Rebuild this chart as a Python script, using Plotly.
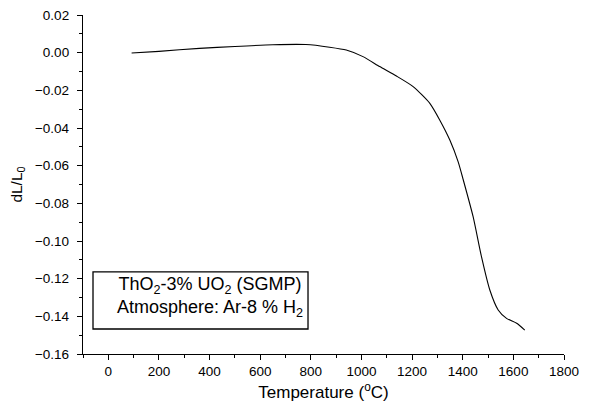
import plotly.graph_objects as go

temperature = [92, 200, 360, 500, 650, 780, 874, 940, 1006, 1072, 1138, 1204, 1270,
               1309, 1349, 1382, 1401, 1441, 1474, 1507, 1540, 1573, 1613, 1645]
dl_l0 = [-0.0002, 0.0007, 0.0023, 0.0033, 0.0042, 0.0043, 0.0029, 0.0014, -0.0021,
         -0.0074, -0.0124, -0.0180, -0.0269, -0.0357, -0.0464, -0.0580, -0.0670,
         -0.0871, -0.1083, -0.1260, -0.1366, -0.1411, -0.1437, -0.1473]
x_ticks = [0, 200, 400, 600, 800, 1000, 1200, 1400, 1600, 1800]
y_ticks = [0.02, 0.00, -0.02, -0.04, -0.06, -0.08, -0.10, -0.12, -0.14, -0.16]

FONT = "Liberation Sans, Arial, sans-serif"

fig = go.Figure()
fig.add_trace(go.Scatter(x=temperature, y=dl_l0, mode="lines",
                         line=dict(color="black", width=1.1, shape="spline", smoothing=0.6),
                         showlegend=False))

axis_common = dict(showline=True, linecolor="black", linewidth=1.3, mirror=False,
                   showgrid=False, zeroline=False, ticks="outside", ticklen=5,
                   tickwidth=1.3, tickcolor="black", automargin=False,
                   tickfont=dict(family=FONT, size=13.5, color="black"))

fig.update_xaxes(range=[-100, 1800], tickvals=x_ticks,
                 minor=dict(dtick=100, tick0=0, ticks="outside", ticklen=3, tickcolor="black", tickwidth=1),
                 title=dict(text="Temperature (<sup>o</sup>C)", font=dict(family=FONT, size=17, color="black"), standoff=7),
                 **axis_common)
fig.update_yaxes(range=[-0.16, 0.02], tickvals=y_ticks, tickformat=".2f", ticklabelstandoff=5,
                 minor=dict(dtick=0.01, tick0=0, ticks="outside", ticklen=3, tickcolor="black", tickwidth=1),
                 title=dict(text="dL/L<sub>0</sub>", font=dict(family=FONT, size=15.5, color="black"), standoff=8),
                 **axis_common)

# legend-like box
fig.add_shape(type="rect", xref="paper", yref="paper", x0=0.0208, x1=0.4678, y0=0.0737, y1=0.242,
              line=dict(color="black", width=1.3), fillcolor="white", layer="above")
fig.add_annotation(xref="paper", yref="paper", x=0.265, y=0.168, xanchor="center", yanchor="middle",
                   text="ThO<sub>2</sub>-3% UO<sub>2</sub> (SGMP)<br>Atmosphere: Ar-8 % H<sub>2</sub>",
                   showarrow=False, align="center",
                   font=dict(family=FONT, size=18, color="black"))

fig.update_layout(width=590, height=416, margin=dict(l=83, r=26, t=15, b=62),
                  plot_bgcolor="white", paper_bgcolor="white",
                  font=dict(family=FONT, color="black"))

fig.write_html("out.html", config={"displayModeBar": False},
               post_script="document.body.style.margin='0';document.body.style.padding='0';")
